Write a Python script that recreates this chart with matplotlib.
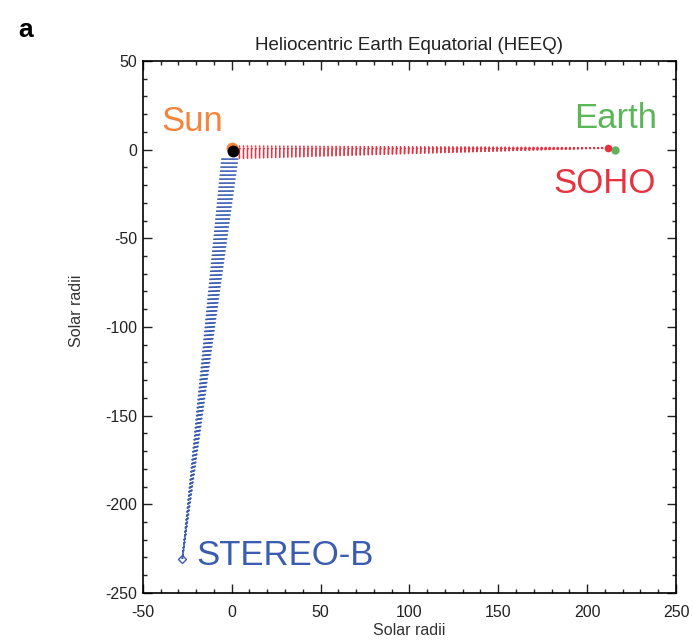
import matplotlib
matplotlib.use('Agg')
import matplotlib.pyplot as plt
from matplotlib.ticker import MultipleLocator

plt.rcParams['font.family'] = ['Liberation Sans', 'DejaVu Sans']
plt.rcParams['axes.unicode_minus'] = False

# positions in solar radii (HEEQ x, y)
sun = [0.0, 0.0]
earth = [215.4, 0.0]
soho = [211.7, 1.0]
stereo_b = [-27.7, -230.6]

# near-Sun ends of the lines of sight
soho_fan_x = 4.0
soho_fan_y = [-5.0, -4.5, -4.0, -3.5, -3.0, -2.5, -2.0, -1.5, -1.0, -0.5, 0.0, 0.5, 1.0, 1.5, 2.0]
stb_fan_y = -5.0
stb_fan_x = [-5.5, -5.0, -4.5, -4.0, -3.5, -3.0, -2.5, -2.0, -1.5, -1.0, -0.5, 0.0, 0.5, 1.0, 1.5, 2.0, 2.5, 3.0, 3.5]

# labels: text, x, y
labels = [('Sun', -21.9, 10.4), ('Earth', 216.3, 12.0), ('SOHO', 210.0, -24.6)]
stb_label = ('STEREO-B', -19.6, -234.4)

c_sun = '#f5843c'
c_earth = '#5db55a'
c_soho = '#e63241'
c_stb = '#3b5caf'

fig = plt.figure(figsize=(6.93, 6.41), dpi=100)
ax = fig.add_axes([0.206, 0.075, 0.7695, 0.830])

dots = (0, (1.0, 1.9))
for y in soho_fan_y:
    ax.plot([soho_fan_x, soho[0]], [y, soho[1]], color=c_soho, lw=1.0, linestyle=dots)
for x in stb_fan_x:
    ax.plot([x, stereo_b[0]], [stb_fan_y, stereo_b[1]], color=c_stb, lw=1.0, linestyle=dots)

ax.plot(sun[0], sun[1] + 1.0, 'o', color=c_sun, ms=7.5)
ax.plot(sun[0] + 0.5, sun[1] - 1.0, 'o', color='black', ms=7.5)
ax.plot(earth[0], earth[1], 'o', color=c_earth, ms=5)
ax.plot(soho[0], soho[1], 'o', color=c_soho, ms=4.5)
ax.plot(stereo_b[0], stereo_b[1], 'D', mfc='none', mec=c_stb, ms=4.5, mew=1.0)

colors = [c_sun, c_earth, c_soho]
for (t, x, y), c in zip(labels, colors):
    ax.text(x, y, t, color=c, fontsize=25, ha='center', va='baseline')
ax.text(stb_label[1], stb_label[2], stb_label[0], color=c_stb, fontsize=25, ha='left', va='baseline')

ax.set_xlim(-50, 250)
ax.set_ylim(-250, 50)
ax.xaxis.set_major_locator(MultipleLocator(50))
ax.xaxis.set_minor_locator(MultipleLocator(10))
ax.yaxis.set_major_locator(MultipleLocator(50))
ax.yaxis.set_minor_locator(MultipleLocator(10))
ax.tick_params(which='both', direction='in', top=True, right=True, labelsize=11.5,
               colors='#222222', width=1.0)
ax.tick_params(which='major', length=6.5)
ax.tick_params(which='minor', length=3)
ax.tick_params(axis='x', pad=9)
ax.tick_params(axis='y', pad=4)
for s in ax.spines.values():
    s.set_linewidth(1.2)

ax.set_xlabel('Solar radii', fontsize=11.5, color='#333333', labelpad=2)
ax.set_ylabel('Solar radii', fontsize=11.5, color='#333333')
ax.yaxis.set_label_coords(-0.11, 0.53)
ax.set_title('Heliocentric Earth Equatorial (HEEQ)', fontsize=13.5, color='#222222', pad=8)
fig.text(0.026, 0.972, 'a', fontsize=19, fontweight='bold', va='top', ha='left')

fig.savefig('out.png', dpi=100)
